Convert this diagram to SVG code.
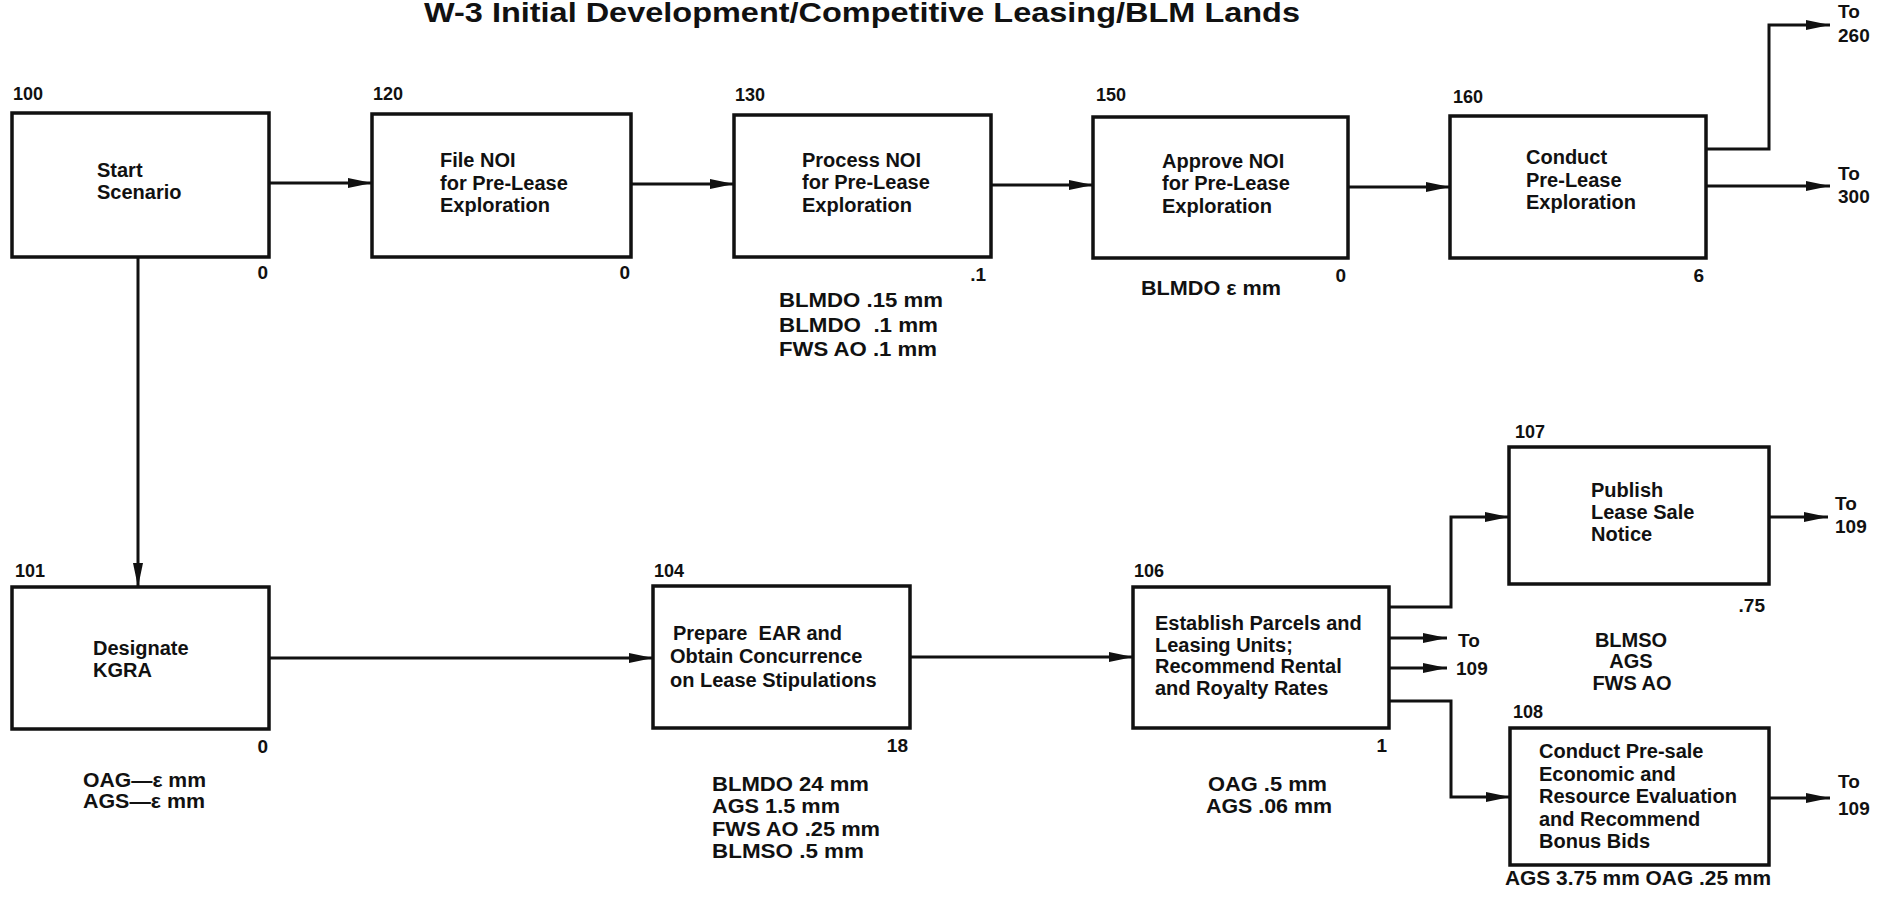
<svg xmlns="http://www.w3.org/2000/svg" width="1891" height="900" viewBox="0 0 1891 900">
<style>
text{font-family:"Liberation Sans",Arial,sans-serif;font-weight:bold;fill:#111}
.box{fill:#fff;stroke:#111;stroke-width:3.5}
.t{font-size:20px}
.id{font-size:18px}
.n{font-size:19px}
.a{font-size:20px}
.c{fill:none;stroke:#111;stroke-width:3}
</style>
<defs>
<marker id="ah" markerUnits="userSpaceOnUse" markerWidth="25" markerHeight="12" refX="24" refY="6" orient="auto">
<path d="M0,1 L24,6 L0,11 z" fill="#111"/>
</marker>
</defs>
<rect width="1891" height="900" fill="#fff"/>
<text x="424" y="22" font-size="28" textLength="876" lengthAdjust="spacingAndGlyphs">W-3 Initial Development/Competitive Leasing/BLM Lands</text>

<g id="connectors">
<path class="c" d="M269,183 H372" marker-end="url(#ah)"/>
<path class="c" d="M631,184 H734" marker-end="url(#ah)"/>
<path class="c" d="M991,185 H1093" marker-end="url(#ah)"/>
<path class="c" d="M1348,187 H1450" marker-end="url(#ah)"/>
<path class="c" d="M1706,149 H1769 V25 H1830" marker-end="url(#ah)"/>
<path class="c" d="M1706,186 H1830" marker-end="url(#ah)"/>
<path class="c" d="M138,257 V587" marker-end="url(#ah)"/>
<path class="c" d="M269,658 H653" marker-end="url(#ah)"/>
<path class="c" d="M910,657 H1133" marker-end="url(#ah)"/>
<path class="c" d="M1389,607 H1451 V517 H1509" marker-end="url(#ah)"/>
<path class="c" d="M1389,638 H1447" marker-end="url(#ah)"/>
<path class="c" d="M1389,668 H1447" marker-end="url(#ah)"/>
<path class="c" d="M1389,701 H1451 V797 H1510" marker-end="url(#ah)"/>
<path class="c" d="M1769,517 H1828" marker-end="url(#ah)"/>
<path class="c" d="M1769,798 H1830" marker-end="url(#ah)"/>
<text class="n" x="1838" y="18">To</text>
<text class="n" x="1838" y="42">260</text>
<text class="n" x="1838" y="180">To</text>
<text class="n" x="1838" y="203">300</text>
<text class="n" x="1458" y="647">To</text>
<text class="n" x="1456" y="675">109</text>
<text class="n" x="1835" y="510">To</text>
<text class="n" x="1835" y="533">109</text>
<text class="n" x="1838" y="788">To</text>
<text class="n" x="1838" y="815">109</text>
</g>

<g id="n100">
<text class="id" x="13" y="100">100</text>
<rect class="box" x="12" y="113" width="257" height="144"/>
<text class="t" x="97" y="177">Start</text>
<text class="t" x="97" y="199">Scenario</text>
<text class="n" x="268" y="279" text-anchor="end">0</text>
</g>

<g id="n120">
<text class="id" x="373" y="100">120</text>
<rect class="box" x="372" y="114" width="259" height="143"/>
<text class="t" x="440" y="167">File NOI</text>
<text class="t" x="440" y="190">for Pre-Lease</text>
<text class="t" x="440" y="212">Exploration</text>
<text class="n" x="630" y="279" text-anchor="end">0</text>
</g>

<g id="n130">
<text class="id" x="735" y="101">130</text>
<rect class="box" x="734" y="115" width="257" height="142"/>
<text class="t" x="802" y="167">Process NOI</text>
<text class="t" x="802" y="189">for Pre-Lease</text>
<text class="t" x="802" y="212">Exploration</text>
<text class="n" x="986" y="281" text-anchor="end">.1</text>
<text class="a" x="779" y="307" textLength="164" lengthAdjust="spacingAndGlyphs">BLMDO .15 mm</text>
<text class="a" x="779" y="332" textLength="159" lengthAdjust="spacingAndGlyphs">BLMDO&#160; .1 mm</text>
<text class="a" x="779" y="356" textLength="158" lengthAdjust="spacingAndGlyphs">FWS AO .1 mm</text>
</g>

<g id="n150">
<text class="id" x="1096" y="101">150</text>
<rect class="box" x="1093" y="117" width="255" height="141"/>
<text class="t" x="1162" y="168">Approve NOI</text>
<text class="t" x="1162" y="190">for Pre-Lease</text>
<text class="t" x="1162" y="213">Exploration</text>
<text class="n" x="1346" y="282" text-anchor="end">0</text>
<text class="a" x="1141" y="295" textLength="140" lengthAdjust="spacingAndGlyphs">BLMDO ε mm</text>
</g>

<g id="n160">
<text class="id" x="1453" y="103">160</text>
<rect class="box" x="1450" y="116" width="256" height="142"/>
<text class="t" x="1526" y="164">Conduct</text>
<text class="t" x="1526" y="187">Pre-Lease</text>
<text class="t" x="1526" y="209">Exploration</text>
<text class="n" x="1704" y="282" text-anchor="end">6</text>
</g>

<g id="n101">
<text class="id" x="15" y="577">101</text>
<rect class="box" x="12" y="587" width="257" height="142"/>
<text class="t" x="93" y="655">Designate</text>
<text class="t" x="93" y="677">KGRA</text>
<text class="n" x="268" y="753" text-anchor="end">0</text>
<text class="a" x="83" y="787" textLength="123" lengthAdjust="spacingAndGlyphs">OAG—ε mm</text>
<text class="a" x="83" y="808" textLength="122" lengthAdjust="spacingAndGlyphs">AGS—ε mm</text>
</g>

<g id="n104">
<text class="id" x="654" y="577">104</text>
<rect class="box" x="653" y="586" width="257" height="142"/>
<text class="t" x="673" y="640">Prepare&#160; EAR and</text>
<text class="t" x="670" y="663">Obtain Concurrence</text>
<text class="t" x="670" y="687">on Lease Stipulations</text>
<text class="n" x="908" y="752" text-anchor="end">18</text>
<text class="a" x="712" y="791" textLength="157" lengthAdjust="spacingAndGlyphs">BLMDO 24 mm</text>
<text class="a" x="712" y="813" textLength="128" lengthAdjust="spacingAndGlyphs">AGS 1.5 mm</text>
<text class="a" x="712" y="836" textLength="168" lengthAdjust="spacingAndGlyphs">FWS AO .25 mm</text>
<text class="a" x="712" y="858" textLength="152" lengthAdjust="spacingAndGlyphs">BLMSO .5 mm</text>
</g>

<g id="n106">
<text class="id" x="1134" y="577">106</text>
<rect class="box" x="1133" y="587" width="256" height="141"/>
<text class="t" x="1155" y="630">Establish Parcels and</text>
<text class="t" x="1155" y="652">Leasing Units;</text>
<text class="t" x="1155" y="673">Recommend Rental</text>
<text class="t" x="1155" y="695">and Royalty Rates</text>
<text class="n" x="1387" y="752" text-anchor="end">1</text>
<text class="a" x="1208" y="791" textLength="119" lengthAdjust="spacingAndGlyphs">OAG .5 mm</text>
<text class="a" x="1206" y="813" textLength="126" lengthAdjust="spacingAndGlyphs">AGS .06 mm</text>
</g>

<g id="n107">
<text class="id" x="1515" y="438">107</text>
<rect class="box" x="1509" y="447" width="260" height="137"/>
<text class="t" x="1591" y="497">Publish</text>
<text class="t" x="1591" y="519">Lease Sale</text>
<text class="t" x="1591" y="541">Notice</text>
<text class="n" x="1765" y="612" text-anchor="end">.75</text>
<text class="a" x="1631" y="647" text-anchor="middle">BLMSO</text>
<text class="a" x="1631" y="668" text-anchor="middle">AGS</text>
<text class="a" x="1632" y="690" text-anchor="middle">FWS AO</text>
</g>

<g id="n108">
<text class="id" x="1513" y="718">108</text>
<rect class="box" x="1510" y="728" width="259" height="137"/>
<text class="t" x="1539" y="758">Conduct Pre-sale</text>
<text class="t" x="1539" y="781">Economic and</text>
<text class="t" x="1539" y="803">Resource Evaluation</text>
<text class="t" x="1539" y="826">and Recommend</text>
<text class="t" x="1539" y="848">Bonus Bids</text>
<text class="a" x="1505" y="885" textLength="266" lengthAdjust="spacingAndGlyphs">AGS 3.75 mm OAG .25 mm</text>
</g>
</svg>
